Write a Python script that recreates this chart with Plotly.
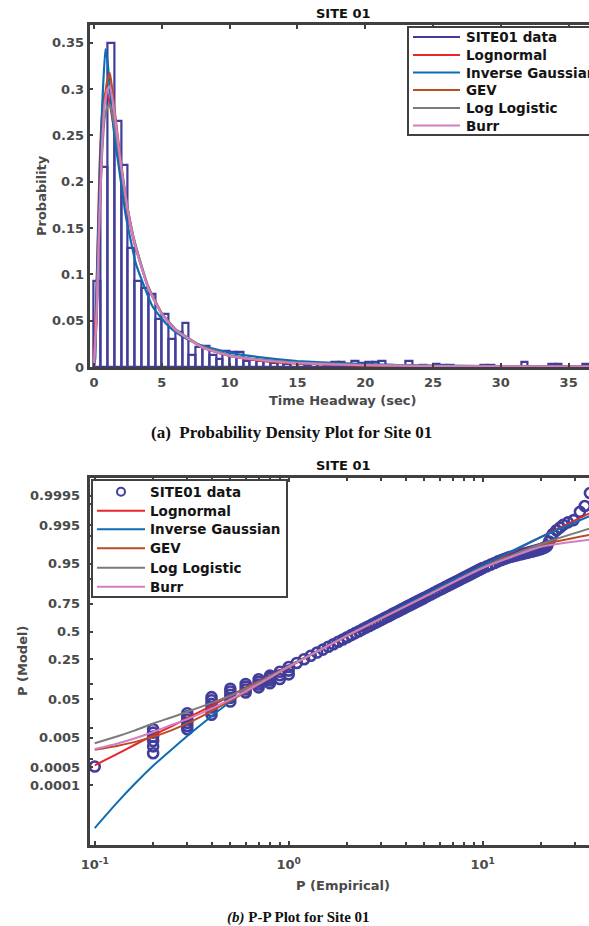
import plotly.graph_objects as go
from statistics import NormalDist

W, H = 589, 926

# ---------------- (a) probability density of time headway ----------------
bin_width = 0.5
hist_density = [
    0.093, 0.216, 0.350, 0.265, 0.218, 0.128, 0.093, 0.085, 0.079, 0.052,
    0.057, 0.030, 0.038, 0.047, 0.013, 0.022, 0.023, 0.013, 0.009, 0.017,
    0.016, 0.016, 0.006, 0.008, 0.006, 0.006, 0.004, 0.005, 0.003, 0.004,
    0.003, 0.002, 0.003, 0.003, 0.002, 0.005, 0.005, 0.002, 0.007, 0.004,
    0.005, 0.005, 0.007, 0.002, 0.000, 0.000, 0.007, 0.000, 0.002, 0.000,
    0.003, 0.002, 0.002, 0.000, 0.000, 0.000, 0.000, 0.002, 0.002, 0.000,
    0.000, 0.000, 0.000, 0.005, 0.000, 0.000, 0.000, 0.003, 0.003, 0.000,
    0.000, 0.000, 0.003, 0.000,
]
bin_centers = [bin_width * (i + 0.5) for i in range(len(hist_density))]

pdf_x_ig = [0.0, 0.1, 0.2, 0.4, 0.6, 0.84, 1.0, 1.2, 1.5, 1.87, 2.36, 3.1, 4.33,
            5.3, 6.0, 7.0, 8.0, 10.0, 12.0, 15.0, 20.0, 25.0, 30.0, 37.0]
pdf_ig = [0.0, 0.01, 0.09, 0.19, 0.28, 0.343, 0.33, 0.295, 0.25, 0.212, 0.162,
          0.111, 0.065, 0.047, 0.038, 0.029, 0.023, 0.0155, 0.011, 0.0065,
          0.003, 0.0015, 0.0008, 0.0004]

pdf_x = [0.0, 0.2, 0.4, 0.6, 0.8, 1.0, 1.18, 1.5, 2.0, 2.5, 3.0, 4.0, 5.0, 6.0,
         8.0, 10.0, 12.0, 15.0, 20.0, 25.0, 30.0, 37.0]
pdf_lognormal = [0.0, 0.09, 0.211, 0.274, 0.295, 0.294, 0.283, 0.255, 0.207,
                 0.165, 0.132, 0.086, 0.058, 0.0405, 0.0213, 0.0121, 0.0075,
                 0.0038, 0.0015, 0.0007, 0.00035, 0.0001]
pdf_gev = [0.0, 0.05, 0.15, 0.24, 0.29, 0.31, 0.317, 0.28, 0.22, 0.17, 0.135,
           0.085, 0.057, 0.04, 0.021, 0.012, 0.0075, 0.004, 0.0017, 0.0009,
           0.0005, 0.0003]
pdf_loglogistic = [0.0, 0.06, 0.16, 0.23, 0.27, 0.281, 0.283, 0.262, 0.215,
                   0.17, 0.135, 0.087, 0.058, 0.041, 0.022, 0.013, 0.0085,
                   0.0048, 0.0022, 0.0012, 0.0007, 0.0004]
pdf_burr = [0.0, 0.06, 0.16, 0.24, 0.285, 0.30, 0.303, 0.275, 0.217, 0.168,
            0.133, 0.085, 0.057, 0.04, 0.021, 0.012, 0.0078, 0.0042, 0.0019,
            0.001, 0.0006, 0.0003]

# ---------------- (b) P-P plot on lognormal probability paper ----------------
pp_empirical = [
    0.1,
    0.2, 0.2, 0.2, 0.2, 0.2, 0.2,
    0.3, 0.3, 0.3, 0.3, 0.3, 0.3,
    0.4, 0.4, 0.4, 0.4, 0.4, 0.4,
    0.5, 0.5, 0.5, 0.5, 0.5,
    0.6, 0.6, 0.6, 0.6,
    0.7, 0.7, 0.7, 0.7,
    0.8, 0.8, 0.8, 0.8,
    0.9, 0.9, 0.9,
    1.0, 1.0, 1.0,
    1.1, 1.2, 1.3, 1.4, 1.5, 1.6, 1.7, 1.8, 1.9, 2.0,
    2.1, 2.2, 2.3, 2.4, 2.5, 2.6, 2.7, 2.8, 2.9, 3.0,
    3.1, 3.2, 3.3, 3.4, 3.5, 3.6, 3.7, 3.8, 3.9, 4.0,
    4.1, 4.2, 4.3, 4.4, 4.5, 4.6, 4.7, 4.8, 4.9, 5.0,
    5.2, 5.4, 5.6, 5.8, 6.0, 6.2, 6.4, 6.6, 6.8, 7.0,
    7.2, 7.4, 7.6, 7.8, 8.0, 8.2, 8.4, 8.6, 8.8, 9.0,
    9.2, 9.4, 9.6, 9.8, 10.0,
    10.5, 11.0, 11.5, 12.0, 12.5, 13.0, 13.5, 14.0, 14.5, 15.0,
    15.5, 16.0, 16.5, 17.0, 17.5, 18.0, 18.5, 19.0, 19.5, 20.0,
    20.5, 21.0, 21.5, 22.0, 22.5, 23.0,
    24.0, 25.0, 26.0, 27.5, 29.4, 31.7, 33.6, 35.7,
]
pp_model = [
    0.00054,
    0.0016, 0.0027, 0.0040, 0.0055, 0.0072, 0.0090,
    0.0090, 0.011, 0.0135, 0.0165, 0.020, 0.024,
    0.022, 0.027, 0.033, 0.040, 0.048, 0.056,
    0.045, 0.054, 0.063, 0.073, 0.083,
    0.070, 0.080, 0.091, 0.102,
    0.088, 0.100, 0.112, 0.124,
    0.105, 0.118, 0.131, 0.143,
    0.125, 0.145, 0.165,
    0.150, 0.172, 0.195,
    0.2233, 0.2514, 0.2786, 0.3053, 0.3310, 0.3557, 0.3794, 0.4024, 0.4243, 0.4451,
    0.4653, 0.4848, 0.5032, 0.5207, 0.5378, 0.5541, 0.5695, 0.5843, 0.5987, 0.6122,
    0.6251, 0.6376, 0.6495, 0.6613, 0.6722, 0.6826, 0.6928, 0.7026, 0.7119, 0.7207,
    0.7294, 0.7376, 0.7454, 0.7530, 0.7605, 0.7676, 0.7743, 0.7808, 0.7870, 0.7934,
    0.8046, 0.8154, 0.8254, 0.8345, 0.8433, 0.8513, 0.8588, 0.8658, 0.8725, 0.8787,
    0.8845, 0.8899, 0.8951, 0.9000, 0.9044, 0.9088, 0.9128, 0.9167, 0.9203, 0.9236,
    0.9269, 0.9299, 0.9329, 0.9356, 0.9382,
    0.9429, 0.9474, 0.9515, 0.9554, 0.9586, 0.9612, 0.9633, 0.9649, 0.9664, 0.9678,
    0.9689, 0.9699, 0.9710, 0.9719, 0.9729, 0.9738, 0.9747, 0.9756, 0.9764, 0.9772,
    0.9783, 0.9793, 0.9812, 0.9854, 0.9887, 0.9909,
    0.9929, 0.9941, 0.9951, 0.9959, 0.99653, 0.99813, 0.99882, 0.9996,
]

cdf_x = [0.1, 0.13, 0.16, 0.2, 0.25, 0.3, 0.4, 0.5, 0.7, 1.0, 2.0, 5.0, 10.0,
         20.0, 36.0]
cdf_lognormal = [0.0006, 0.0015, 0.003, 0.006, 0.011, 0.018, 0.036, 0.060,
                 0.115, 0.203, 0.457, 0.80, 0.942, 0.989, 0.998]
cdf_ig = [0.00000097, 0.0000166, 0.000108, 0.000577, 0.00219, 0.0057, 0.0202,
          0.0446, 0.111, 0.2005, 0.465, 0.81, 0.945, 0.989, 0.9975]
cdf_gev = [0.0021, 0.0028, 0.0037, 0.0054, 0.0085, 0.013, 0.027, 0.047, 0.10,
           0.195, 0.46, 0.80, 0.94, 0.982, 0.9905]
cdf_loglogistic = [0.0034, 0.0055, 0.0082, 0.013, 0.019, 0.026, 0.042, 0.060,
                   0.11, 0.20, 0.46, 0.80, 0.94, 0.983, 0.9938]
cdf_burr = [0.0022, 0.0033, 0.0048, 0.0075, 0.012, 0.017, 0.031, 0.050, 0.102,
            0.197, 0.46, 0.80, 0.938, 0.98, 0.987]

prob_ticks = [0.0001, 0.0005, 0.001, 0.005, 0.01, 0.05, 0.1, 0.25, 0.5, 0.75,
              0.9, 0.95, 0.99, 0.995, 0.999, 0.9995, 0.9999]
prob_labels = ["0.0001", "0.0005", "", "0.005", "", "0.05", "", "0.25", "0.5",
               "0.75", "", "0.95", "", "0.995", "", "0.9995", ""]

pdf_ticks = [0, 0.05, 0.1, 0.15, 0.2, 0.25, 0.3, 0.35]
pdf_tick_labels = ["0", "0.05", "0.1", "0.15", "0.2", "0.25", "0.3", "0.35"]

legend_names = ["SITE01 data", "Lognormal", "Inverse Gaussian", "GEV",
                "Log Logistic", "Burr"]
colors = {
    "SITE01 data": "#413d9b",
    "Lognormal": "#e8252b",
    "Inverse Gaussian": "#0c6cb4",
    "GEV": "#b94d24",
    "Log Logistic": "#7b7b7b",
    "Burr": "#d27fc1",
}

# normal-probability axis for the model probabilities
probit = NormalDist().inv_cdf


def zs(ps):
    return [probit(p) for p in ps]


FONT = "DejaVu Sans"
AX = "#404040"
TXT = "#4a4a4a"

fig = go.Figure()

fig.add_trace(go.Bar(
    x=bin_centers, y=hist_density, width=bin_width,
    marker=dict(color="rgba(0,0,0,0)",
                line=dict(color=colors["SITE01 data"], width=2.2)),
    name="SITE01 data", xaxis="x", yaxis="y", showlegend=False,
))
pdf_series = [
    ("Lognormal", pdf_x, pdf_lognormal),
    ("Inverse Gaussian", pdf_x_ig, pdf_ig),
    ("GEV", pdf_x, pdf_gev),
    ("Log Logistic", pdf_x, pdf_loglogistic),
    ("Burr", pdf_x, pdf_burr),
]
for name, xs, ys in pdf_series:
    fig.add_trace(go.Scatter(
        x=xs, y=ys, mode="lines", name=name, showlegend=False,
        line=dict(color=colors[name], width=2.2, shape="spline", smoothing=0.4),
        xaxis="x", yaxis="y",
    ))

fig.add_trace(go.Scatter(
    x=pp_empirical, y=zs(pp_model), mode="markers", name="SITE01 data",
    marker=dict(symbol="circle-open", size=10, color=colors["SITE01 data"],
                line=dict(width=2.6, color=colors["SITE01 data"])),
    xaxis="x2", yaxis="y2", showlegend=False,
))
cdf_series = [
    ("Lognormal", cdf_lognormal),
    ("Inverse Gaussian", cdf_ig),
    ("GEV", cdf_gev),
    ("Log Logistic", cdf_loglogistic),
    ("Burr", cdf_burr),
]
for name, ps in cdf_series:
    fig.add_trace(go.Scatter(
        x=cdf_x, y=zs(ps), mode="lines", name=name, showlegend=False,
        line=dict(color=colors[name], width=2, shape="spline", smoothing=0.5),
        xaxis="x2", yaxis="y2",
    ))

tickfont = dict(family=FONT, size=13, color=TXT, weight="bold")
common = dict(showline=True, linewidth=2.5, linecolor=AX, ticks="inside",
              ticklen=4, tickwidth=2, tickcolor=AX, showgrid=False,
              zeroline=False, tickfont=tickfont, automargin=False)

xdom = [89.5 / W, 1.0]
fig.update_layout(
    width=W, height=H,
    margin=dict(l=0, r=0, t=0, b=0, autoexpand=False),
    paper_bgcolor="white", plot_bgcolor="white",
    bargap=0, showlegend=False,
    xaxis=dict(domain=xdom, range=[-0.33, 36.5],
               tickvals=[0, 5, 10, 15, 20, 25, 30, 35],
               mirror="ticks", anchor="y", ticklabelstandoff=2, **common),
    yaxis=dict(domain=[1 - 367 / H, 1 - 25 / H], range=[0, 0.369],
               tickvals=pdf_ticks, ticktext=pdf_tick_labels,
               mirror=False, anchor="x", **common),
    xaxis2=dict(domain=xdom, type="log", range=[-1.027, 1.548],
                tickvals=[0.1, 1, 10],
                ticktext=["10<sup>-1</sup>", "10<sup>0</sup>", "10<sup>1</sup>"],
                minor=dict(ticks="inside", ticklen=3, tickwidth=1.5, tickcolor=AX,
                           tickvals=[0.2, 0.3, 0.4, 0.5, 0.6, 0.7, 0.8, 0.9,
                                     2, 3, 4, 5, 6, 7, 8, 9, 20, 30]),
                mirror="ticks", anchor="y2", ticklabelstandoff=6, **common),
    yaxis2=dict(domain=[1 - 845 / H, 1 - 478 / H], range=[-5.17, 3.719],
                tickvals=zs(prob_ticks), ticktext=prob_labels,
                mirror=False, anchor="x2", ticklabelstandoff=4, **common),
)


def px_x(v):
    return v / W


def px_y(v):
    return 1 - v / H


# legends drawn as a framed key: frame, line samples and labels
legend_boxes = [
    # (left, top, right, bottom, sample_x0, sample_x1, text_x, row_ys, font size, circle_first)
    (408, 27, 640, 135, 413, 460, 464, [37, 55, 72.5, 90, 108, 125.5], 13.5, False),
    (92, 480, 287, 597, 97, 145, 148, [491.7, 510.7, 529.3, 548.3, 567.7, 586.7], 13.5, True),
]
for (bl, bt, br, bb, sx0, sx1, tx, rows, fsize, circle_first) in legend_boxes:
    fig.add_shape(type="rect", xref="paper", yref="paper",
                  x0=px_x(bl), x1=px_x(br), y0=px_y(bb), y1=px_y(bt),
                  line=dict(color=AX, width=2), fillcolor="white", layer="above")
    for i, (name, ry) in enumerate(zip(legend_names, rows)):
        c = colors[name]
        if i == 0 and circle_first:
            cx = (sx0 + sx1) / 2
            fig.add_shape(type="circle", xref="paper", yref="paper",
                          x0=px_x(cx - 4), x1=px_x(cx + 4),
                          y0=px_y(ry + 4), y1=px_y(ry - 4),
                          line=dict(color=c, width=2), layer="above")
        else:
            fig.add_shape(type="line", xref="paper", yref="paper",
                          x0=px_x(sx0), x1=px_x(sx1), y0=px_y(ry), y1=px_y(ry),
                          line=dict(color=c, width=2), layer="above")
        fig.add_annotation(text=name, x=px_x(tx), y=px_y(ry), xref="paper",
                           yref="paper", showarrow=False, xanchor="left",
                           yanchor="middle",
                           font=dict(family=FONT, size=fsize, color="#141414",
                                     weight="bold"))

annot_font = dict(family=FONT, size=13, color=TXT, weight="bold")
title_font = dict(family=FONT, size=13, color="#111111", weight="bold")
cap_a = dict(family="Liberation Serif", size=17, color="#111111")
cap_b = dict(family="Liberation Serif", size=15, color="#111111")
texts = [
    ("SITE 01", 343, 13, 0, title_font),
    ("Time Headway (sec)", 343, 400, 0, annot_font),
    ("Probability", 41, 196, -90, annot_font),
    ("<b>(a)\u00a0\u00a0Probability Density Plot for Site 01</b>", 291, 433, 0, cap_a),
    ("SITE 01", 343, 466, 0, title_font),
    ("P (Empirical)", 343, 885, 0, annot_font),
    ("P (Model)", 22, 661, -90, annot_font),
    ("<b><i>(b)</i> P-P Plot for Site 01</b>", 298, 917, 0, cap_b),
]
for t, x, y, ang, f in texts:
    fig.add_annotation(text=t, x=px_x(x), y=px_y(y), xref="paper", yref="paper",
                       showarrow=False, textangle=ang, font=f,
                       xanchor="center", yanchor="middle")

fig.write_html("out.html")
